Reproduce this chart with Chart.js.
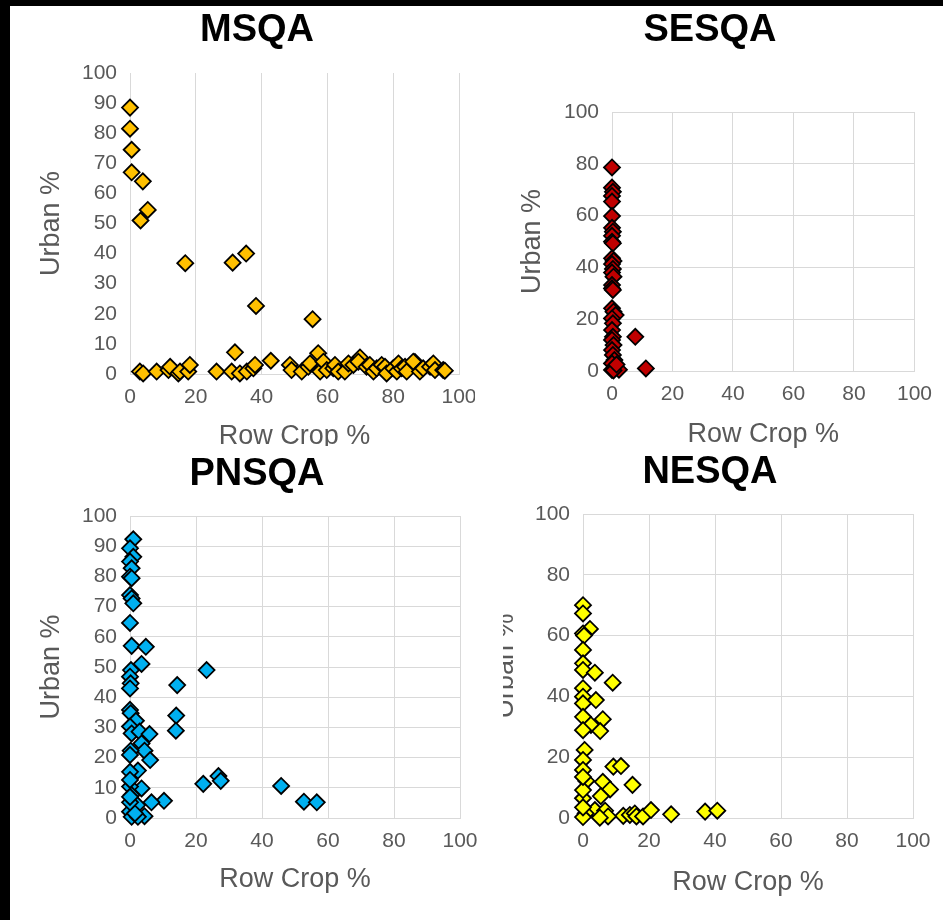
<!DOCTYPE html>
<html>
<head>
<meta charset="utf-8">
<script src="https://cdn.jsdelivr.net/npm/chart.js@4.4.1/dist/chart.umd.min.js"></script>
<style>
  html, body { margin: 0; padding: 0; background: #000; }
  body { width: 943px; height: 920px; position: relative; overflow: hidden; font-family: "Liberation Sans", Arial, sans-serif; }
  .sheet { position: absolute; left: 10px; top: 6px; right: 0; bottom: 0; background: #fff; }
  .panel { position: absolute; background: #fff; overflow: hidden; }
  .panel canvas { position: absolute; }
  .panel .title { position: absolute; width: 300px; text-align: center; font-weight: bold; font-size: 38px; line-height: 40px; color: #000; }
</style>
</head>
<body>
<div class="sheet"></div>
<script>
const xTicks = [0, 20, 40, 60, 80, 100];
const xLabel = "Row Crop %";
const yLabel = "Urban %";

const msqaRowCrop = [0, 0, 0.5, 0.5, 3.9, 5.4, 3.2, 16.8, 31.2, 35.3, 38.3, 55.5, 31.9, 57.2, 42.8, 69.9, 86.6,
    3.0, 4.0, 8.1, 11.7, 12.2, 14.7, 15.2, 17.7, 18.2, 26.3,
    30.9, 33.4, 35.5, 37.5, 38.0, 48.6, 49.1, 52.2, 54.2, 54.7,
    57.8, 58.8, 59.8, 61.8, 62.3, 63.3, 65.3, 66.4, 67.9, 69.4,
    71.9, 72.9, 74.0, 75.0, 76.5, 77.5, 78.0, 80.0, 81.1, 81.6,
    82.6, 83.6, 84.1, 86.1, 88.1, 89.1, 91.2, 92.2, 92.7, 95.2, 95.7];
const msqaUrban = [88.5, 81.5, 74.5, 67, 64, 54.5, 51, 36.8, 37, 40, 22.6, 18.2, 7.2, 6.9, 4.4, 5.5, 4,
    0.8, 0.2, 0.8, 1.3, 2.4, 0.2, 0.8, 0.8, 3.0, 0.8,
    0.8, 0.2, 0.8, 1.9, 3.0, 3.0, 1.3, 0.8, 2.4, 3.5,
    0.8, 4.1, 1.3, 1.9, 3.0, 0.8, 0.8, 3.5, 3.0, 4.1,
    2.4, 3.0, 0.8, 1.9, 3.0, 2.4, 0.2, 1.9, 0.8, 3.5,
    1.9, 2.4, 0.8, 4.1, 0.8, 1.9, 2.4, 3.5, 1.3, 1.3, 1.1];

const sesqaRowCrop = [0, 0, 0.3, 0, 0, 0, 0, 0.3, 0, 0, 0.3, 0, 0.5, 0, 0.3, 0, 0.5, 0, 0, 0.3,
    0, 0.5, 1.2, 0, 0.3, 0, 0.3, 0, 0.5, 0, 0.3, 0.8, 0, 1.0, 0, 2.3, 7.7, 11.2, 0.5, 1.5];
const sesqaUrban = [78.6, 70.8, 69.2, 67.6, 65.4, 59.8, 55.3, 53.8, 52.2, 49.9, 49.3, 43.5, 42.5, 41.3, 39.4, 38, 36.4, 33.2, 31.9, 31.3,
    24.2, 22.9, 21.6, 20.3, 18.4, 15.8, 13.2, 12, 10, 8.1, 6.2, 4.2, 2.9, 1.7, 0.4, 0.5, 13.2, 1.0, 0.2, 2.5];

const pnsqaRowCrop = [1, 0, 1, 0, 0.5, 0, 0.5, 0, 0.5, 1, 0, 0.5, 4.8, 3.5, 23.2, 0.3, 0, 0.2, 0, 14.3,
    0, 0.2, 14, 13.9, 1.8, 0, 0.5, 2.9, 5.9, 3.5, 4.4, 0.2, 0, 6.1, 2.4, 0, 22.2, 26.8, 27.5, 45.8,
    52.7, 56.6, 10.3, 6.5, 3.5, 0, 0, 0.5, 2.2, 0, 0.5, 4.4, 2.4, 1.5, 0, 0];
const pnsqaUrban = [92.3, 89.3, 86.5, 84.9, 82.7, 79.9, 79.4, 73.8, 72.7, 71.1, 64.6, 57, 56.7, 51, 49, 49, 46.8, 44.6, 42.9, 44,
    35.8, 34.7, 33.9, 28.9, 32.2, 30.3, 28, 28.6, 27.8, 24.7, 22.3, 22.3, 20.9, 19.2, 15.7, 15.3, 11.3, 13.9, 12.3, 10.6,
    5.4, 5.2, 5.7, 5.2, 9.8, 10.4, 12.6, 7.6, 4.3, 2.1, 0.4, 0.6, 0.4, 1.5, 5.2, 7];

const nesqaRowCrop = [0, 0, 2.1, 0, 0.3, 0, 0, 0, 3.6, 9, 0, 0, 3.9, 0, 0, 2.4, 6, 5.2, 0, 0.5,
    0, 0, 9.2, 11.5, 1, 6, 15, 8.2, 5.4, 0, 0, 0, 3.6, 6.7, 0.8, 12.2, 14.2, 15.7, 16.2, 18.2,
    20.6, 26.7, 37, 40.7, 7.6, 5.1, 0, 0];
const nesqaUrban = [70, 67.3, 62.2, 60.7, 60, 55.3, 50.9, 48.7, 47.8, 44.5, 42.7, 39.9, 38.8, 37.7, 33.3, 30.6, 32.5, 28.6, 28.9, 22.4,
    19.1, 15.8, 16.9, 17.1, 12.2, 11.9, 10.9, 9.4, 7.2, 6.5, 9.2, 13.5, 2.6, 2.4, 1.5, 0.7, 1, 1.5, 0.5, 0.5,
    2.6, 1.2, 2.1, 2.4, 0.5, 0.1, 0.3, 3.5];

const FONT = "'Liberation Sans', Arial, sans-serif";
const TICK_FONT = 21;
const AXIS_FONT = 27;
const GRID = "#d9d9d9";
const TEXT = "#595959";

// panel: visible box, canvas: drawing box (may run under neighbours), plot: chart area
const panels = [
    { title: "MSQA", titleX: 257, titleY: 28, color: "#ffc000", x: msqaRowCrop, y: msqaUrban,
      yStep: 10, yGrid: false, panel: [10, 6, 465, 440], canvas: [10, 6, 500, 470],
      plot: { l: 130, t: 73, r: 459, b: 374 }, yTitleX: 52, xTitleY: 437 },
    { title: "SESQA", titleX: 710, titleY: 28, color: "#c00000", x: sesqaRowCrop, y: sesqaUrban,
      yStep: 20, yGrid: true, panel: [475, 6, 468, 444], canvas: [475, 6, 468, 470],
      plot: { l: 612, t: 112, r: 921, b: 371 }, yTitleX: 533, xTitleY: 435 },
    { title: "PNSQA", titleX: 257, titleY: 472, color: "#00b0f0", x: pnsqaRowCrop, y: pnsqaUrban,
      yStep: 10, yGrid: true, panel: [10, 446, 493, 474], canvas: [10, 446, 510, 474],
      plot: { l: 130, t: 516, r: 460, b: 818 }, yTitleX: 52, xTitleY: 880 },
    { title: "NESQA", titleX: 710, titleY: 470, color: "#ffff00", x: nesqaRowCrop, y: nesqaUrban,
      yStep: 20, yGrid: true, panel: [503, 450, 440, 470], canvas: [483, 450, 460, 470],
      plot: { l: 583, t: 514, r: 913, b: 818 }, yTitleX: 506, xTitleY: 883 },
];

function drawPanel(p) {
    const [px, py, pw, ph] = p.panel;
    const [cx, cy, cw, ch] = p.canvas;
    const plot = p.plot;
    const lh = AXIS_FONT * 1.2;

    const box = document.createElement("div");
    box.className = "panel";
    box.style.left = px + "px";
    box.style.top = py + "px";
    box.style.width = pw + "px";
    box.style.height = ph + "px";
    document.body.appendChild(box);

    const canvas = document.createElement("canvas");
    canvas.width = cw;
    canvas.height = ch;
    canvas.style.left = (cx - px) + "px";
    canvas.style.top = (cy - py) + "px";
    box.appendChild(canvas);

    const title = document.createElement("div");
    title.className = "title";
    title.textContent = p.title;
    title.style.left = (p.titleX - px - 150) + "px";
    title.style.top = (p.titleY - py - 20) + "px";
    box.appendChild(title);

    new Chart(canvas, {
        type: "scatter",
        data: {
            datasets: [{
                data: p.x.map((v, i) => ({ x: v, y: p.y[i] })),
                pointStyle: "rectRot",
                pointRadius: 8,
                pointBackgroundColor: p.color,
                pointBorderColor: "#000",
                pointBorderWidth: 1.8,
                clip: false,
            }],
        },
        options: {
            responsive: false,
            animation: false,
            events: [],
            layout: {
                padding: {
                    left: 0,
                    top: plot.t - cy,
                    right: cx + cw - plot.r,
                    bottom: cy + ch - (p.xTitleY + lh / 2),
                },
            },
            plugins: { legend: { display: false }, tooltip: { enabled: false } },
            scales: {
                x: {
                    type: "linear",
                    min: 0,
                    max: 100,
                    afterBuildTicks: (s) => { s.ticks = xTicks.map((v) => ({ value: v })); },
                    ticks: { color: TEXT, font: { family: FONT, size: TICK_FONT }, padding: 11 },
                    grid: { color: GRID, lineWidth: 1, drawTicks: false },
                    border: { display: true, color: GRID },
                    title: { display: true, text: xLabel, color: TEXT, font: { family: FONT, size: AXIS_FONT }, padding: 0 },
                    afterFit: (s) => { s.height = p.xTitleY + lh / 2 - plot.b; },
                },
                y: {
                    min: 0,
                    max: 100,
                    ticks: { stepSize: p.yStep, color: TEXT, font: { family: FONT, size: TICK_FONT }, padding: 13 },
                    grid: { display: p.yGrid, color: GRID, lineWidth: 1, drawTicks: false },
                    border: { display: false },
                    title: {
                        display: true, text: yLabel, color: TEXT, font: { family: FONT, size: AXIS_FONT },
                        padding: { top: p.yTitleX - cx - lh / 2, bottom: 0 },
                    },
                    afterFit: (s) => { s.width = plot.l - cx; },
                },
            },
        },
    });
}

panels.forEach(drawPanel);
</script>
</body>
</html>
